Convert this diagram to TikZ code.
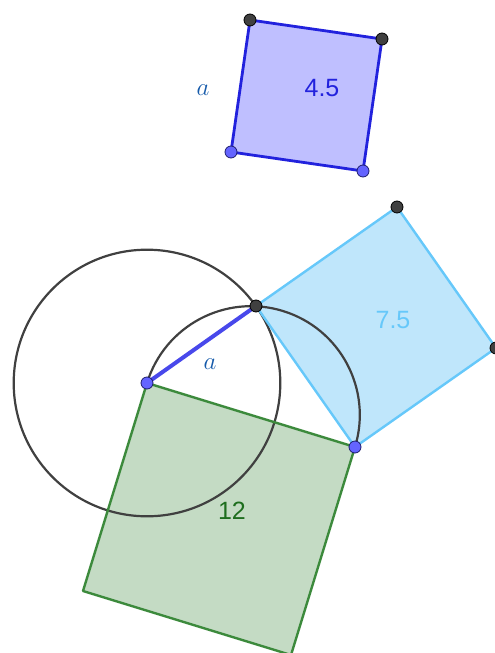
\documentclass[tikz,border=0pt]{standalone}
\usepackage{fontspec}
\setmainfont{Liberation Sans}
\usepackage{pdfrender}
\usetikzlibrary{calc}

\definecolor{violetfill}{RGB}{191,191,255}
\definecolor{violetedge}{RGB}{34,34,221}
\definecolor{cyanfill}{RGB}{191,230,251}
\definecolor{cyanedge}{RGB}{102,200,250}
\definecolor{greenfill}{RGB}{196,219,196}
\definecolor{greenedge}{RGB}{60,138,60}
\definecolor{greentext}{RGB}{30,110,30}
\definecolor{circgray}{RGB}{64,64,64}
\definecolor{segblue}{RGB}{72,72,235}
\definecolor{ptblue}{RGB}{100,100,255}
\definecolor{ptblueedge}{RGB}{30,30,110}
\definecolor{namecol}{RGB}{21,90,170}

\newcommand{\halo}[1]{\textpdfrender{TextRenderingMode=FillStroke,LineWidth=1.6pt,StrokeColor=white}{#1}}

\begin{document}
\begin{tikzpicture}[x=1pt,y=-1pt,
    circ/.style={draw=circgray,line width=2.2pt},
    ptdark/.style={fill=circgray,draw=black,line width=0.8pt},
    ptblu/.style={fill=ptblue,draw=ptblueedge,line width=0.8pt},
    area/.style={font=\fontsize{25}{29}\selectfont},
    sidelabel/.style={text=namecol,font=\fontsize{30}{34}\selectfont}]
  \useasboundingbox (0,0) rectangle (495,653);
  \clip (0,0) rectangle (495,653);
  % right triangle on the diameter AC
  \coordinate (A) at (147,383);
  \coordinate (B) at (256,306);
  \coordinate (C) at (355,447);
  \coordinate (M) at ($(A)!0.5!(C)$);
  % square on BC
  \coordinate (D) at ($(B)+(141,-99)$);
  \coordinate (E) at ($(C)+(141,-99)$);
  % square on AC
  \coordinate (F) at ($(C)+(-64,208)$);
  \coordinate (G) at ($(A)+(-64,208)$);
  % square with side a
  \coordinate (P1) at (231,152);
  \coordinate (P2) at (363,171);
  \coordinate (P3) at ($(P2)+(19,-132)$);
  \coordinate (P4) at ($(P1)+(19,-132)$);

  \fill[violetfill] (P1) -- (P2) -- (P3) -- (P4) -- cycle;
  \fill[cyanfill] (B) -- (C) -- (E) -- (D) -- cycle;
  \fill[greenfill] (A) -- (C) -- (F) -- (G) -- cycle;

  \draw[circ] (A) circle (133.3);
  \draw[circ] (A) arc[start angle=197.1, end angle=377.1, radius=108.8];

  \draw[violetedge,line width=2.8pt,line join=round] (P1) -- (P2) -- (P3) -- (P4) -- cycle;
  \draw[cyanedge,line width=2.4pt,line join=round] (B) -- (C) -- (E) -- (D) -- cycle;
  \draw[greenedge,line width=2.4pt,line join=round] (A) -- (C) -- (F) -- (G) -- cycle;
  \draw[segblue,line width=4pt] (A) -- (B);

  \foreach \p in {B,D,E,P3,P4}
    \draw[ptdark] (\p) circle (6);
  \foreach \p in {A,C,P1,P2}
    \draw[ptblu] (\p) circle (6);

  \node[area,text=violetedge] (lab45) at (322,88) {\halo{4.5}};
  \node[area,text=cyanedge] (lab75) at (393,320) {\halo{7.5}};
  \node[area,text=greentext] (lab12) at (232,511) {\halo{12}};
  \node[sidelabel] (namea) at (203,90) {$a$};
  \node[sidelabel] (nameab) at (210,364) {$a$};
\end{tikzpicture}
\end{document}
